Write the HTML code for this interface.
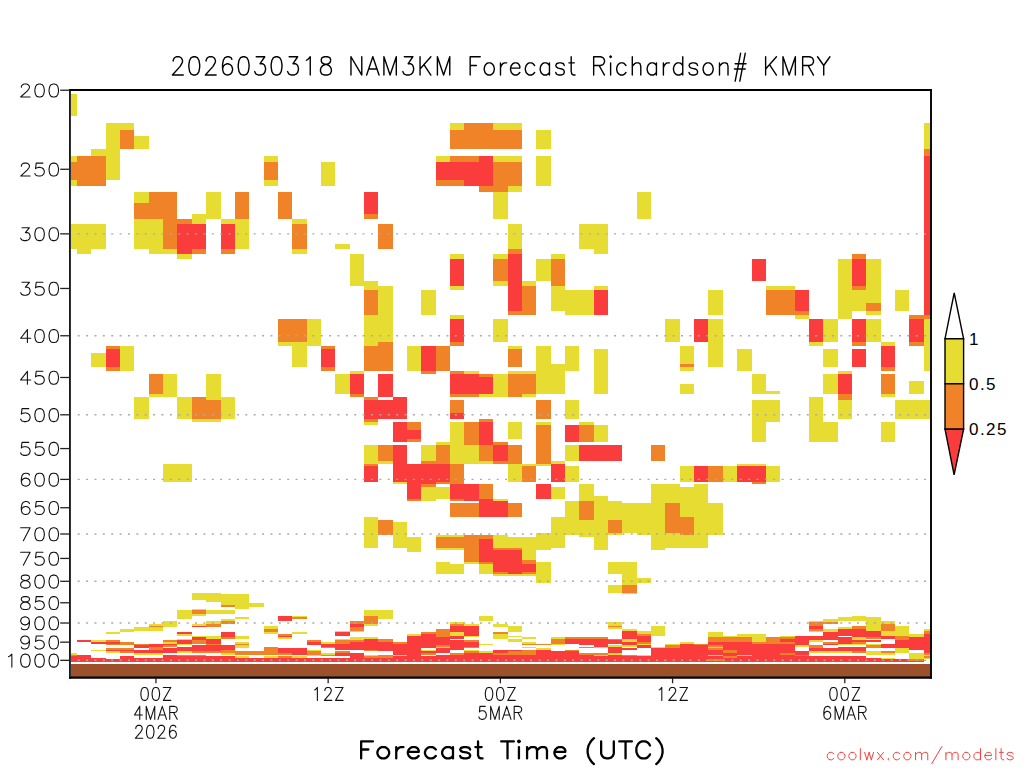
<!DOCTYPE html>
<html><head><meta charset="utf-8"><title>NAM3KM Forecast Richardson# KMRY</title>
<style>html,body{margin:0;padding:0;background:#fff;font-family:"Liberation Sans",sans-serif}svg{display:block}</style></head>
<body>
<svg width="1024" height="768" viewBox="0 0 1024 768">
<rect width="1024" height="768" fill="#fff"/>
<g shape-rendering="crispEdges">
<path fill="#e6dc32" d="M71 94h6v22h-6zM71 156h6v6h-6zM71 180h6v6h-6zM71 224h6v25h-6zM71 653h6v2h-6zM77 224h14v30h-14zM91 149h15v7h-15zM91 224h15v25h-15zM91 353h15v14h-15zM91 640h15v2h-15zM91 650h15v1h-15zM106 123h14v57h-14zM106 632h14v2h-14zM106 651h14v2h-14zM120 123h14v7h-14zM120 346h14v25h-14zM120 629h14v3h-14zM134 136h15v13h-15zM134 192h15v11h-15zM134 219h15v30h-15zM134 397h15v22h-15zM134 627h15v4h-15zM134 653h15v2h-15zM149 219h14v35h-14zM149 394h14v3h-14zM149 624h14v2h-14zM149 627h14v4h-14zM149 653h14v2h-14zM163 249h14v5h-14zM163 374h14v23h-14zM163 464h14v18h-14zM163 621h14v6h-14zM163 642h14v2h-14zM177 254h15v5h-15zM177 397h15v22h-15zM177 464h15v18h-15zM177 610h15v9h-15zM177 634h15v2h-15zM177 639h15v1h-15zM177 644h15v1h-15zM177 651h15v2h-15zM192 214h14v10h-14zM192 419h14v3h-14zM192 593h14v7h-14zM192 609h14v1h-14zM192 614h14v2h-14zM192 624h14v2h-14zM192 636h14v1h-14zM206 192h15v27h-15zM206 374h15v26h-15zM206 419h15v3h-15zM206 593h15v9h-15zM206 610h15v4h-15zM206 621h15v3h-15zM206 636h15v3h-15zM221 219h14v5h-14zM221 397h14v22h-14zM221 594h14v11h-14zM221 610h14v4h-14zM221 619h14v2h-14zM221 653h14v2h-14zM235 219h14v30h-14zM235 594h14v15h-14zM235 617h14v2h-14zM235 636h14v3h-14zM235 642h14v2h-14zM235 645h14v3h-14zM235 656h14v2h-14zM249 603h15v4h-15zM264 156h14v6h-14zM264 180h14v6h-14zM264 626h14v3h-14zM264 632h14v2h-14zM264 656h14v2h-14zM278 342h14v4h-14zM278 637h14v2h-14zM292 219h15v5h-15zM292 249h15v5h-15zM292 342h15v25h-15zM292 616h15v1h-15zM292 632h15v2h-15zM292 656h15v2h-15zM307 319h14v27h-14zM307 650h14v1h-14zM307 655h14v1h-14zM321 162h14v24h-14zM321 642h14v2h-14zM321 653h14v2h-14zM335 244h15v5h-15zM335 374h15v20h-15zM335 631h15v1h-15zM335 639h15v1h-15zM350 254h14v32h-14zM350 371h14v3h-14zM350 631h14v1h-14zM350 637h14v3h-14zM364 281h14v9h-14zM364 315h14v31h-14zM364 422h14v3h-14zM364 445h14v19h-14zM364 517h14v31h-14zM364 610h14v6h-14zM364 624h14v2h-14zM364 637h14v2h-14zM364 655h14v1h-14zM378 286h15v56h-15zM378 461h15v3h-15zM378 610h15v9h-15zM393 482h14v2h-14zM393 522h14v26h-14zM393 655h14v1h-14zM407 346h14v25h-14zM407 537h14v15h-14zM407 634h14v2h-14zM421 290h15v25h-15zM421 445h15v16h-15zM421 487h15v14h-15zM421 650h15v1h-15zM436 156h14v6h-14zM436 442h14v3h-14zM436 487h14v12h-14zM436 535h14v2h-14zM436 548h14v2h-14zM436 562h14v12h-14zM436 647h14v1h-14zM450 123h14v7h-14zM450 254h14v5h-14zM450 286h14v4h-14zM450 315h14v4h-14zM450 422h14v42h-14zM450 535h14v2h-14zM450 548h14v2h-14zM450 564h14v10h-14zM450 622h14v2h-14zM450 632h14v4h-14zM464 371h15v3h-15zM464 445h15v19h-15zM464 562h15v2h-15zM464 624h15v2h-15zM464 636h15v1h-15zM464 650h15v1h-15zM479 394h14v3h-14zM479 461h14v3h-14zM479 564h14v10h-14zM479 616h14v5h-14zM479 644h14v1h-14zM479 651h14v2h-14zM493 123h15v7h-15zM493 156h15v6h-15zM493 192h15v27h-15zM493 254h15v5h-15zM493 281h15v5h-15zM493 319h15v23h-15zM493 374h15v23h-15zM493 499h15v2h-15zM493 535h15v13h-15zM493 574h15v2h-15zM493 624h15v3h-15zM493 634h15v5h-15zM508 123h14v7h-14zM508 156h14v6h-14zM508 186h14v6h-14zM508 224h14v25h-14zM508 346h14v3h-14zM508 371h14v3h-14zM508 422h14v17h-14zM508 464h14v18h-14zM508 537h14v11h-14zM508 574h14v2h-14zM508 626h14v6h-14zM508 636h14v1h-14zM508 639h14v3h-14zM522 281h14v5h-14zM522 371h14v3h-14zM522 394h14v3h-14zM522 464h14v2h-14zM522 537h14v23h-14zM522 574h14v2h-14zM522 637h14v2h-14zM522 642h14v2h-14zM522 647h14v1h-14zM536 130h15v19h-15zM536 156h15v30h-15zM536 259h15v22h-15zM536 346h15v48h-15zM536 422h15v3h-15zM536 464h15v2h-15zM536 533h15v17h-15zM536 562h15v21h-15zM536 648h15v2h-15zM551 254h14v5h-14zM551 286h14v25h-14zM551 364h14v30h-14zM551 461h14v3h-14zM551 487h14v12h-14zM551 517h14v31h-14zM551 637h14v2h-14zM551 644h14v1h-14zM565 290h14v25h-14zM565 346h14v25h-14zM565 400h14v19h-14zM565 445h14v16h-14zM565 466h14v16h-14zM565 501h14v34h-14zM579 224h15v25h-15zM579 290h15v25h-15zM579 422h15v3h-15zM579 484h15v17h-15zM579 520h15v17h-15zM594 224h14v30h-14zM594 286h14v4h-14zM594 349h14v45h-14zM594 425h14v17h-14zM594 496h14v54h-14zM594 647h14v1h-14zM594 655h14v1h-14zM608 501h14v19h-14zM608 533h14v2h-14zM608 562h14v12h-14zM608 585h14v8h-14zM608 622h14v4h-14zM608 627h14v2h-14zM608 645h14v2h-14zM608 653h14v2h-14zM622 503h15v30h-15zM622 562h15v23h-15zM622 593h15v1h-15zM622 629h15v2h-15zM622 639h15v3h-15zM622 645h15v2h-15zM637 192h14v27h-14zM637 503h14v32h-14zM637 578h14v5h-14zM637 631h14v3h-14zM637 644h14v1h-14zM637 655h14v1h-14zM651 484h14v66h-14zM651 626h14v10h-14zM651 647h14v1h-14zM665 319h15v23h-15zM665 484h15v19h-15zM665 533h15v15h-15zM665 644h15v1h-15zM680 346h14v18h-14zM680 367h14v4h-14zM680 384h14v10h-14zM680 466h14v16h-14zM680 487h14v30h-14zM680 535h14v13h-14zM680 642h14v2h-14zM694 484h14v64h-14zM708 290h15v25h-15zM708 319h15v48h-15zM708 503h15v32h-15zM708 632h15v5h-15zM708 647h15v1h-15zM708 655h15v1h-15zM723 466h14v16h-14zM723 636h14v1h-14zM737 349h15v22h-15zM737 464h15v2h-15zM737 634h15v3h-15zM737 655h15v1h-15zM752 374h14v20h-14zM752 400h14v42h-14zM752 464h14v2h-14zM752 634h14v8h-14zM766 286h14v4h-14zM766 391h14v3h-14zM766 400h14v22h-14zM766 466h14v16h-14zM780 286h15v4h-15zM780 636h15v1h-15zM795 315h14v4h-14zM795 645h14v2h-14zM809 342h14v4h-14zM809 397h14v45h-14zM809 621h14v1h-14zM809 631h14v1h-14zM809 640h14v2h-14zM809 645h14v2h-14zM809 651h14v2h-14zM823 319h15v23h-15zM823 349h15v18h-15zM823 374h15v20h-15zM823 422h15v20h-15zM823 619h15v3h-15zM823 629h15v3h-15zM823 651h15v2h-15zM838 259h14v60h-14zM838 371h14v3h-14zM838 400h14v19h-14zM838 617h14v4h-14zM838 627h14v2h-14zM838 644h14v1h-14zM838 651h14v2h-14zM852 290h14v21h-14zM852 616h14v5h-14zM852 637h14v3h-14zM852 644h14v1h-14zM866 259h15v44h-15zM866 311h15v4h-15zM866 319h15v23h-15zM866 617h15v14h-15zM866 644h15v1h-15zM866 651h15v4h-15zM881 342h14v4h-14zM881 394h14v3h-14zM881 422h14v20h-14zM881 621h14v3h-14zM881 631h14v5h-14zM881 653h14v2h-14zM881 658h14v1h-14zM895 290h14v21h-14zM895 400h14v19h-14zM895 626h14v10h-14zM895 648h14v5h-14zM909 381h15v13h-15zM909 400h15v19h-15zM909 634h15v3h-15zM909 653h15v6h-15zM924 123h6v26h-6zM924 319h6v52h-6zM924 400h6v19h-6zM924 629h6v2h-6zM924 655h6v1h-6zM924 658h6v1h-6z"/>
<path fill="#f08228" d="M71 162h6v18h-6zM71 655h6v1h-6zM77 156h14v30h-14zM91 156h15v30h-15zM106 346h14v3h-14zM106 367h14v4h-14zM106 640h14v2h-14zM106 644h14v1h-14zM106 648h14v2h-14zM120 130h14v19h-14zM120 642h14v3h-14zM120 648h14v2h-14zM120 651h14v2h-14zM134 203h15v16h-15zM134 644h15v1h-15zM149 192h14v27h-14zM149 374h14v20h-14zM149 626h14v1h-14zM149 647h14v3h-14zM163 192h14v57h-14zM163 640h14v2h-14zM163 645h14v2h-14zM177 219h15v5h-15zM177 655h15v1h-15zM192 249h14v5h-14zM192 397h14v22h-14zM192 610h14v4h-14zM192 640h14v4h-14zM192 651h14v2h-14zM192 655h14v1h-14zM206 400h15v19h-15zM206 624h15v3h-15zM206 644h15v1h-15zM206 651h15v2h-15zM221 249h14v5h-14zM221 605h14v2h-14zM221 621h14v3h-14zM221 637h14v2h-14zM221 650h14v3h-14zM235 192h14v27h-14zM235 644h14v1h-14zM235 651h14v4h-14zM249 651h15v4h-15zM264 162h14v18h-14zM264 629h14v3h-14zM264 647h14v8h-14zM278 192h14v27h-14zM278 319h14v23h-14zM278 634h14v2h-14zM278 653h14v2h-14zM278 656h14v2h-14zM292 224h15v25h-15zM292 319h15v23h-15zM292 617h15v2h-15zM307 640h14v2h-14zM307 651h14v4h-14zM321 346h14v3h-14zM321 367h14v4h-14zM321 647h14v1h-14zM321 655h14v1h-14zM335 640h15v4h-15zM335 651h15v2h-15zM350 394h14v3h-14zM350 621h14v3h-14zM350 627h14v4h-14zM350 640h14v2h-14zM364 214h14v5h-14zM364 290h14v25h-14zM364 346h14v25h-14zM364 397h14v3h-14zM364 419h14v3h-14zM364 464h14v2h-14zM364 616h14v8h-14zM364 650h14v1h-14zM364 656h14v2h-14zM378 224h15v25h-15zM378 342h15v29h-15zM378 445h15v16h-15zM378 520h15v15h-15zM378 639h15v3h-15zM378 655h15v3h-15zM393 642h14v2h-14zM407 422h14v8h-14zM407 439h14v3h-14zM407 499h14v2h-14zM421 371h15v3h-15zM421 461h15v3h-15zM421 484h15v3h-15zM421 632h15v2h-15zM421 653h15v2h-15zM436 180h14v6h-14zM436 346h14v25h-14zM436 445h14v19h-14zM436 482h14v2h-14zM436 537h14v11h-14zM436 629h14v8h-14zM436 645h14v2h-14zM450 130h14v19h-14zM450 156h14v6h-14zM450 180h14v6h-14zM450 342h14v4h-14zM450 371h14v3h-14zM450 394h14v3h-14zM450 400h14v13h-14zM450 464h14v20h-14zM450 499h14v2h-14zM450 503h14v14h-14zM450 537h14v11h-14zM450 624h14v2h-14zM450 653h14v2h-14zM464 123h15v26h-15zM464 156h15v6h-15zM464 394h15v3h-15zM464 422h15v23h-15zM464 503h15v14h-15zM464 535h15v27h-15zM464 640h15v2h-15zM464 647h15v1h-15zM464 651h15v2h-15zM479 123h14v26h-14zM479 186h14v6h-14zM479 374h14v3h-14zM479 419h14v3h-14zM479 445h14v16h-14zM479 484h14v15h-14zM479 535h14v4h-14zM479 562h14v2h-14zM493 130h15v19h-15zM493 162h15v30h-15zM493 259h15v22h-15zM493 442h15v3h-15zM493 461h15v3h-15zM493 548h15v2h-15zM493 572h15v2h-15zM493 632h15v2h-15zM493 653h15v2h-15zM508 130h14v19h-14zM508 162h14v24h-14zM508 249h14v5h-14zM508 311h14v4h-14zM508 349h14v18h-14zM508 374h14v23h-14zM508 445h14v19h-14zM508 503h14v14h-14zM508 548h14v2h-14zM508 651h14v4h-14zM522 286h14v29h-14zM522 374h14v20h-14zM522 466h14v16h-14zM522 560h14v4h-14zM522 572h14v2h-14zM522 644h14v1h-14zM522 650h14v5h-14zM536 400h15v19h-15zM536 425h15v39h-15zM536 644h15v1h-15zM551 259h14v27h-14zM551 639h14v5h-14zM565 637h14v2h-14zM565 650h14v1h-14zM579 425h15v17h-15zM579 501h15v19h-15zM579 637h15v2h-15zM579 647h15v1h-15zM579 653h15v2h-15zM594 637h14v2h-14zM594 653h14v2h-14zM608 520h14v13h-14zM608 626h14v1h-14zM608 639h14v1h-14zM622 585h15v8h-15zM622 655h15v1h-15zM637 634h14v2h-14zM637 642h14v2h-14zM651 445h14v16h-14zM665 503h15v30h-15zM665 645h15v3h-15zM680 364h14v3h-14zM680 517h14v18h-14zM694 644h14v1h-14zM708 466h15v16h-15zM708 637h15v5h-15zM708 645h15v2h-15zM708 648h15v2h-15zM708 659h15v2h-15zM723 637h14v5h-14zM723 650h14v3h-14zM723 656h14v2h-14zM737 637h15v5h-15zM752 482h14v2h-14zM752 642h14v2h-14zM766 290h14v25h-14zM766 637h14v7h-14zM780 290h15v25h-15zM780 637h15v2h-15zM780 642h15v2h-15zM780 653h15v2h-15zM795 311h14v4h-14zM795 655h14v1h-14zM809 622h14v4h-14zM809 629h14v2h-14zM809 645h14v3h-14zM823 622h15v2h-15zM823 642h15v2h-15zM838 394h14v6h-14zM852 254h14v5h-14zM852 286h14v4h-14zM852 342h14v4h-14zM852 626h14v3h-14zM852 642h14v2h-14zM852 651h14v2h-14zM866 303h15v8h-15zM866 637h15v2h-15zM866 645h15v3h-15zM881 367h14v4h-14zM881 374h14v20h-14zM881 624h14v7h-14zM881 651h14v2h-14zM895 636h14v4h-14zM909 315h15v4h-15zM909 342h15v4h-15zM909 659h15v2h-15zM924 149h6v7h-6zM924 315h6v4h-6zM924 631h6v3h-6zM924 653h6v2h-6zM924 656h6v2h-6z"/>
<path fill="#fa3c3c" d="M71 656h6v6h-6zM77 640h14v2h-14zM77 655h14v7h-14zM91 642h15v2h-15zM91 658h15v4h-15zM106 349h14v18h-14zM106 642h14v2h-14zM106 650h14v1h-14zM106 659h14v3h-14zM120 650h14v1h-14zM120 656h14v6h-14zM134 645h15v3h-15zM134 650h15v3h-15zM134 658h15v4h-15zM149 644h14v3h-14zM149 650h14v3h-14zM149 658h14v4h-14zM163 644h14v1h-14zM163 648h14v5h-14zM163 655h14v7h-14zM177 224h15v30h-15zM177 632h15v2h-15zM177 640h15v4h-15zM177 647h15v4h-15zM177 656h15v6h-15zM192 224h14v25h-14zM192 626h14v1h-14zM192 637h14v3h-14zM192 645h14v6h-14zM192 656h14v6h-14zM206 639h15v5h-15zM206 645h15v6h-15zM206 656h15v6h-15zM221 224h14v25h-14zM221 632h14v5h-14zM221 645h14v5h-14zM221 656h14v6h-14zM235 658h14v4h-14zM249 658h15v4h-15zM264 658h14v4h-14zM278 616h14v5h-14zM278 636h14v1h-14zM278 648h14v5h-14zM278 658h14v4h-14zM292 648h15v7h-15zM292 658h15v4h-15zM307 642h14v3h-14zM307 658h14v4h-14zM321 349h14v18h-14zM321 644h14v3h-14zM321 658h14v4h-14zM335 632h15v4h-15zM335 644h15v6h-15zM335 653h15v3h-15zM335 658h15v4h-15zM350 374h14v20h-14zM350 624h14v3h-14zM350 642h14v8h-14zM350 653h14v9h-14zM364 192h14v22h-14zM364 400h14v19h-14zM364 466h14v16h-14zM364 639h14v11h-14zM364 658h14v4h-14zM378 374h15v23h-15zM378 400h15v19h-15zM378 642h15v9h-15zM378 658h15v4h-15zM393 397h14v22h-14zM393 422h14v20h-14zM393 445h14v37h-14zM393 644h14v11h-14zM393 656h14v6h-14zM407 430h14v9h-14zM407 464h14v35h-14zM407 636h14v26h-14zM421 346h15v25h-15zM421 464h15v20h-15zM421 634h15v14h-15zM421 651h15v2h-15zM421 656h15v6h-15zM436 162h14v18h-14zM436 464h14v18h-14zM436 637h14v8h-14zM436 648h14v5h-14zM436 655h14v7h-14zM450 162h14v18h-14zM450 259h14v27h-14zM450 319h14v23h-14zM450 374h14v20h-14zM450 413h14v6h-14zM450 484h14v15h-14zM450 626h14v6h-14zM450 636h14v3h-14zM450 640h14v10h-14zM450 655h14v7h-14zM464 162h15v24h-15zM464 374h15v20h-15zM464 484h15v17h-15zM464 626h15v10h-15zM464 642h15v5h-15zM464 653h15v9h-15zM479 156h14v30h-14zM479 377h14v17h-14zM479 422h14v23h-14zM479 499h14v18h-14zM479 539h14v23h-14zM479 653h14v9h-14zM493 445h15v16h-15zM493 501h15v16h-15zM493 550h15v22h-15zM493 650h15v3h-15zM493 655h15v7h-15zM508 254h14v57h-14zM508 550h14v24h-14zM508 650h14v1h-14zM508 655h14v7h-14zM522 564h14v8h-14zM522 655h14v7h-14zM536 484h15v15h-15zM536 650h15v12h-15zM551 464h14v18h-14zM551 651h14v11h-14zM565 425h14v17h-14zM565 639h14v5h-14zM565 651h14v11h-14zM579 445h15v16h-15zM579 639h15v6h-15zM579 655h15v7h-15zM594 290h14v25h-14zM594 445h14v16h-14zM594 639h14v8h-14zM594 656h14v6h-14zM608 445h14v16h-14zM608 640h14v4h-14zM608 647h14v6h-14zM608 655h14v7h-14zM622 631h15v8h-15zM622 642h15v3h-15zM622 648h15v2h-15zM622 656h15v6h-15zM637 636h14v6h-14zM637 645h14v3h-14zM637 656h14v6h-14zM651 648h14v14h-14zM665 648h15v14h-15zM680 644h14v18h-14zM694 319h14v23h-14zM694 466h14v16h-14zM694 645h14v17h-14zM708 642h15v3h-15zM708 650h15v5h-15zM708 656h15v3h-15zM708 661h15v1h-15zM723 642h14v8h-14zM723 653h14v3h-14zM723 658h14v4h-14zM737 466h15v16h-15zM737 642h15v13h-15zM737 656h15v6h-15zM752 259h14v22h-14zM752 466h14v16h-14zM752 644h14v18h-14zM766 644h14v18h-14zM780 639h15v3h-15zM780 644h15v9h-15zM780 655h15v7h-15zM795 290h14v21h-14zM795 636h14v9h-14zM795 651h14v4h-14zM795 656h14v6h-14zM809 319h14v23h-14zM809 626h14v3h-14zM809 636h14v4h-14zM809 648h14v3h-14zM809 656h14v6h-14zM823 632h15v8h-15zM823 644h15v1h-15zM823 648h15v3h-15zM823 656h15v6h-15zM838 374h14v20h-14zM838 629h14v7h-14zM838 637h14v7h-14zM838 647h14v4h-14zM838 656h14v6h-14zM852 259h14v27h-14zM852 319h14v23h-14zM852 349h14v18h-14zM852 629h14v8h-14zM852 640h14v2h-14zM852 647h14v4h-14zM852 656h14v6h-14zM866 631h15v6h-15zM866 640h15v2h-15zM866 658h15v4h-15zM881 346h14v21h-14zM881 636h14v3h-14zM881 644h14v4h-14zM881 659h14v3h-14zM895 640h14v8h-14zM895 659h14v3h-14zM909 319h15v23h-15zM909 637h15v13h-15zM909 661h15v1h-15zM924 156h6v159h-6zM924 634h6v19h-6z"/>
<rect x="71" y="664" width="859" height="13" fill="#9c502c"/>
</g>
<line x1="77.7" x2="930" y1="233.86" y2="233.86" stroke="#aaaaaa" stroke-width="1.45" stroke-dasharray="2 6.38"/>
<line x1="77.7" x2="930" y1="335.76" y2="335.76" stroke="#aaaaaa" stroke-width="1.45" stroke-dasharray="2 6.38"/>
<line x1="77.7" x2="930" y1="414.81" y2="414.81" stroke="#aaaaaa" stroke-width="1.45" stroke-dasharray="2 6.38"/>
<line x1="77.7" x2="930" y1="479.39" y2="479.39" stroke="#aaaaaa" stroke-width="1.45" stroke-dasharray="2 6.38"/>
<line x1="77.7" x2="930" y1="534" y2="534" stroke="#aaaaaa" stroke-width="1.45" stroke-dasharray="2 6.38"/>
<line x1="77.7" x2="930" y1="581.3" y2="581.3" stroke="#aaaaaa" stroke-width="1.45" stroke-dasharray="2 6.38"/>
<line x1="77.7" x2="930" y1="623.02" y2="623.02" stroke="#aaaaaa" stroke-width="1.45" stroke-dasharray="2 6.38"/>
<line x1="77.7" x2="930" y1="660.34" y2="660.34" stroke="#aaaaaa" stroke-width="1.45" stroke-dasharray="2 6.38"/>
<path d="M69.95 89 V678.7" fill="none" stroke="#000" stroke-width="1.7"/><path d="M931 89 V678.7" fill="none" stroke="#000" stroke-width="1.9"/>
<path d="M69.05 89.95 H931.9" fill="none" stroke="#000" stroke-width="1.9"/>
<path d="M69.05 677.65 H931.9" fill="none" stroke="#000" stroke-width="2.1"/>
<line x1="60.2" x2="70" y1="90.23" y2="90.23" stroke="#222" stroke-width="1.3"/>
<path d="M21.33 87.14 L21.33 86.52 L22.01 85.29 L22.68 84.67 L24.03 84.05 L26.73 84.05 L28.08 84.67 L28.75 85.29 L29.43 86.52 L29.43 87.76 L28.75 88.99 L27.4 90.84 L20.66 97.01 L30.1 97.01 M38.91 84.05 L36.88 84.67 L35.53 86.52 L34.86 89.61 L34.86 91.46 L35.53 94.54 L36.88 96.39 L38.91 97.01 L40.25 97.01 L42.28 96.39 L43.63 94.54 L44.3 91.46 L44.3 89.61 L43.63 86.52 L42.28 84.67 L40.25 84.05 L38.91 84.05 M53.11 84.05 L51.08 84.67 L49.73 86.52 L49.06 89.61 L49.06 91.46 L49.73 94.54 L51.08 96.39 L53.11 97.01 L54.45 97.01 L56.48 96.39 L57.83 94.54 L58.5 91.46 L58.5 89.61 L57.83 86.52 L56.48 84.67 L54.45 84.05 L53.11 84.05" fill="none" stroke="#111" stroke-width="1.1" stroke-linecap="round" stroke-linejoin="round"/>
<line x1="60.2" x2="70" y1="169.27" y2="169.27" stroke="#222" stroke-width="1.3"/>
<path d="M21.33 166.18 L21.33 165.57 L22.01 164.33 L22.68 163.71 L24.03 163.1 L26.73 163.1 L28.08 163.71 L28.75 164.33 L29.43 165.57 L29.43 166.8 L28.75 168.03 L27.4 169.88 L20.66 176.05 L30.1 176.05 M42.95 163.1 L36.21 163.1 L35.53 168.65 L36.21 168.03 L38.23 167.42 L40.25 167.42 L42.28 168.03 L43.63 169.27 L44.3 171.12 L44.3 172.35 L43.63 174.2 L42.28 175.44 L40.25 176.05 L38.23 176.05 L36.21 175.44 L35.53 174.82 L34.86 173.59 M53.11 163.1 L51.08 163.71 L49.73 165.57 L49.06 168.65 L49.06 170.5 L49.73 173.59 L51.08 175.44 L53.11 176.05 L54.45 176.05 L56.48 175.44 L57.83 173.59 L58.5 170.5 L58.5 168.65 L57.83 165.57 L56.48 163.71 L54.45 163.1 L53.11 163.1" fill="none" stroke="#111" stroke-width="1.1" stroke-linecap="round" stroke-linejoin="round"/>
<line x1="60.2" x2="70" y1="233.86" y2="233.86" stroke="#222" stroke-width="1.3"/>
<path d="M22.01 227.68 L29.43 227.68 L25.38 232.62 L27.4 232.62 L28.75 233.23 L29.43 233.85 L30.1 235.7 L30.1 236.94 L29.43 238.79 L28.08 240.02 L26.05 240.64 L24.03 240.64 L22.01 240.02 L21.33 239.4 L20.66 238.17 M38.91 227.68 L36.88 228.3 L35.53 230.15 L34.86 233.23 L34.86 235.08 L35.53 238.17 L36.88 240.02 L38.91 240.64 L40.25 240.64 L42.28 240.02 L43.63 238.17 L44.3 235.08 L44.3 233.23 L43.63 230.15 L42.28 228.3 L40.25 227.68 L38.91 227.68 M53.11 227.68 L51.08 228.3 L49.73 230.15 L49.06 233.23 L49.06 235.08 L49.73 238.17 L51.08 240.02 L53.11 240.64 L54.45 240.64 L56.48 240.02 L57.83 238.17 L58.5 235.08 L58.5 233.23 L57.83 230.15 L56.48 228.3 L54.45 227.68 L53.11 227.68" fill="none" stroke="#111" stroke-width="1.1" stroke-linecap="round" stroke-linejoin="round"/>
<line x1="60.2" x2="70" y1="288.46" y2="288.46" stroke="#222" stroke-width="1.3"/>
<path d="M22.01 282.29 L29.43 282.29 L25.38 287.22 L27.4 287.22 L28.75 287.84 L29.43 288.46 L30.1 290.31 L30.1 291.54 L29.43 293.39 L28.08 294.63 L26.05 295.24 L24.03 295.24 L22.01 294.63 L21.33 294.01 L20.66 292.77 M42.95 282.29 L36.21 282.29 L35.53 287.84 L36.21 287.22 L38.23 286.6 L40.25 286.6 L42.28 287.22 L43.63 288.46 L44.3 290.31 L44.3 291.54 L43.63 293.39 L42.28 294.63 L40.25 295.24 L38.23 295.24 L36.21 294.63 L35.53 294.01 L34.86 292.77 M53.11 282.29 L51.08 282.9 L49.73 284.75 L49.06 287.84 L49.06 289.69 L49.73 292.77 L51.08 294.63 L53.11 295.24 L54.45 295.24 L56.48 294.63 L57.83 292.77 L58.5 289.69 L58.5 287.84 L57.83 284.75 L56.48 282.9 L54.45 282.29 L53.11 282.29" fill="none" stroke="#111" stroke-width="1.1" stroke-linecap="round" stroke-linejoin="round"/>
<line x1="60.2" x2="70" y1="335.76" y2="335.76" stroke="#222" stroke-width="1.3"/>
<path d="M27.4 329.59 L20.66 338.22 L30.78 338.22 M27.4 329.59 L27.4 342.54 M38.91 329.59 L36.88 330.2 L35.53 332.05 L34.86 335.14 L34.86 336.99 L35.53 340.08 L36.88 341.93 L38.91 342.54 L40.25 342.54 L42.28 341.93 L43.63 340.08 L44.3 336.99 L44.3 335.14 L43.63 332.05 L42.28 330.2 L40.25 329.59 L38.91 329.59 M53.11 329.59 L51.08 330.2 L49.73 332.05 L49.06 335.14 L49.06 336.99 L49.73 340.08 L51.08 341.93 L53.11 342.54 L54.45 342.54 L56.48 341.93 L57.83 340.08 L58.5 336.99 L58.5 335.14 L57.83 332.05 L56.48 330.2 L54.45 329.59 L53.11 329.59" fill="none" stroke="#111" stroke-width="1.1" stroke-linecap="round" stroke-linejoin="round"/>
<line x1="60.2" x2="70" y1="377.49" y2="377.49" stroke="#222" stroke-width="1.3"/>
<path d="M27.4 371.31 L20.66 379.95 L30.78 379.95 M27.4 371.31 L27.4 384.27 M42.95 371.31 L36.21 371.31 L35.53 376.86 L36.21 376.24 L38.23 375.63 L40.25 375.63 L42.28 376.24 L43.63 377.48 L44.3 379.33 L44.3 380.56 L43.63 382.41 L42.28 383.65 L40.25 384.27 L38.23 384.27 L36.21 383.65 L35.53 383.03 L34.86 381.8 M53.11 371.31 L51.08 371.93 L49.73 373.78 L49.06 376.86 L49.06 378.71 L49.73 381.8 L51.08 383.65 L53.11 384.27 L54.45 384.27 L56.48 383.65 L57.83 381.8 L58.5 378.71 L58.5 376.86 L57.83 373.78 L56.48 371.93 L54.45 371.31 L53.11 371.31" fill="none" stroke="#111" stroke-width="1.1" stroke-linecap="round" stroke-linejoin="round"/>
<line x1="60.2" x2="70" y1="414.81" y2="414.81" stroke="#222" stroke-width="1.3"/>
<path d="M28.75 408.63 L22.01 408.63 L21.33 414.18 L22.01 413.57 L24.03 412.95 L26.05 412.95 L28.08 413.57 L29.43 414.8 L30.1 416.65 L30.1 417.89 L29.43 419.74 L28.08 420.97 L26.05 421.59 L24.03 421.59 L22.01 420.97 L21.33 420.35 L20.66 419.12 M38.91 408.63 L36.88 409.25 L35.53 411.1 L34.86 414.18 L34.86 416.03 L35.53 419.12 L36.88 420.97 L38.91 421.59 L40.25 421.59 L42.28 420.97 L43.63 419.12 L44.3 416.03 L44.3 414.18 L43.63 411.1 L42.28 409.25 L40.25 408.63 L38.91 408.63 M53.11 408.63 L51.08 409.25 L49.73 411.1 L49.06 414.18 L49.06 416.03 L49.73 419.12 L51.08 420.97 L53.11 421.59 L54.45 421.59 L56.48 420.97 L57.83 419.12 L58.5 416.03 L58.5 414.18 L57.83 411.1 L56.48 409.25 L54.45 408.63 L53.11 408.63" fill="none" stroke="#111" stroke-width="1.1" stroke-linecap="round" stroke-linejoin="round"/>
<line x1="60.2" x2="70" y1="448.57" y2="448.57" stroke="#222" stroke-width="1.3"/>
<path d="M28.75 442.39 L22.01 442.39 L21.33 447.95 L22.01 447.33 L24.03 446.71 L26.05 446.71 L28.08 447.33 L29.43 448.56 L30.1 450.41 L30.1 451.65 L29.43 453.5 L28.08 454.73 L26.05 455.35 L24.03 455.35 L22.01 454.73 L21.33 454.12 L20.66 452.88 M42.95 442.39 L36.21 442.39 L35.53 447.95 L36.21 447.33 L38.23 446.71 L40.25 446.71 L42.28 447.33 L43.63 448.56 L44.3 450.41 L44.3 451.65 L43.63 453.5 L42.28 454.73 L40.25 455.35 L38.23 455.35 L36.21 454.73 L35.53 454.12 L34.86 452.88 M53.11 442.39 L51.08 443.01 L49.73 444.86 L49.06 447.95 L49.06 449.8 L49.73 452.88 L51.08 454.73 L53.11 455.35 L54.45 455.35 L56.48 454.73 L57.83 452.88 L58.5 449.8 L58.5 447.95 L57.83 444.86 L56.48 443.01 L54.45 442.39 L53.11 442.39" fill="none" stroke="#111" stroke-width="1.1" stroke-linecap="round" stroke-linejoin="round"/>
<line x1="60.2" x2="70" y1="479.39" y2="479.39" stroke="#222" stroke-width="1.3"/>
<path d="M29.43 475.07 L28.75 473.83 L26.73 473.21 L25.38 473.21 L23.36 473.83 L22.01 475.68 L21.33 478.77 L21.33 481.85 L22.01 484.32 L23.36 485.55 L25.38 486.17 L26.05 486.17 L28.08 485.55 L29.43 484.32 L30.1 482.47 L30.1 481.85 L29.43 480 L28.08 478.77 L26.05 478.15 L25.38 478.15 L23.36 478.77 L22.01 480 L21.33 481.85 M38.91 473.21 L36.88 473.83 L35.53 475.68 L34.86 478.77 L34.86 480.62 L35.53 483.7 L36.88 485.55 L38.91 486.17 L40.25 486.17 L42.28 485.55 L43.63 483.7 L44.3 480.62 L44.3 478.77 L43.63 475.68 L42.28 473.83 L40.25 473.21 L38.91 473.21 M53.11 473.21 L51.08 473.83 L49.73 475.68 L49.06 478.77 L49.06 480.62 L49.73 483.7 L51.08 485.55 L53.11 486.17 L54.45 486.17 L56.48 485.55 L57.83 483.7 L58.5 480.62 L58.5 478.77 L57.83 475.68 L56.48 473.83 L54.45 473.21 L53.11 473.21" fill="none" stroke="#111" stroke-width="1.1" stroke-linecap="round" stroke-linejoin="round"/>
<line x1="60.2" x2="70" y1="507.74" y2="507.74" stroke="#222" stroke-width="1.3"/>
<path d="M29.43 503.42 L28.75 502.18 L26.73 501.57 L25.38 501.57 L23.36 502.18 L22.01 504.04 L21.33 507.12 L21.33 510.21 L22.01 512.67 L23.36 513.91 L25.38 514.52 L26.05 514.52 L28.08 513.91 L29.43 512.67 L30.1 510.82 L30.1 510.21 L29.43 508.35 L28.08 507.12 L26.05 506.5 L25.38 506.5 L23.36 507.12 L22.01 508.35 L21.33 510.21 M42.95 501.57 L36.21 501.57 L35.53 507.12 L36.21 506.5 L38.23 505.89 L40.25 505.89 L42.28 506.5 L43.63 507.74 L44.3 509.59 L44.3 510.82 L43.63 512.67 L42.28 513.91 L40.25 514.52 L38.23 514.52 L36.21 513.91 L35.53 513.29 L34.86 512.06 M53.11 501.57 L51.08 502.18 L49.73 504.04 L49.06 507.12 L49.06 508.97 L49.73 512.06 L51.08 513.91 L53.11 514.52 L54.45 514.52 L56.48 513.91 L57.83 512.06 L58.5 508.97 L58.5 507.12 L57.83 504.04 L56.48 502.18 L54.45 501.57 L53.11 501.57" fill="none" stroke="#111" stroke-width="1.1" stroke-linecap="round" stroke-linejoin="round"/>
<line x1="60.2" x2="70" y1="534" y2="534" stroke="#222" stroke-width="1.3"/>
<path d="M30.1 527.82 L23.36 540.78 M20.66 527.82 L30.1 527.82 M38.91 527.82 L36.88 528.44 L35.53 530.29 L34.86 533.37 L34.86 535.22 L35.53 538.31 L36.88 540.16 L38.91 540.78 L40.25 540.78 L42.28 540.16 L43.63 538.31 L44.3 535.22 L44.3 533.37 L43.63 530.29 L42.28 528.44 L40.25 527.82 L38.91 527.82 M53.11 527.82 L51.08 528.44 L49.73 530.29 L49.06 533.37 L49.06 535.22 L49.73 538.31 L51.08 540.16 L53.11 540.78 L54.45 540.78 L56.48 540.16 L57.83 538.31 L58.5 535.22 L58.5 533.37 L57.83 530.29 L56.48 528.44 L54.45 527.82 L53.11 527.82" fill="none" stroke="#111" stroke-width="1.1" stroke-linecap="round" stroke-linejoin="round"/>
<line x1="60.2" x2="70" y1="558.44" y2="558.44" stroke="#222" stroke-width="1.3"/>
<path d="M30.1 552.26 L23.36 565.22 M20.66 552.26 L30.1 552.26 M42.95 552.26 L36.21 552.26 L35.53 557.81 L36.21 557.19 L38.23 556.58 L40.25 556.58 L42.28 557.19 L43.63 558.43 L44.3 560.28 L44.3 561.51 L43.63 563.36 L42.28 564.6 L40.25 565.22 L38.23 565.22 L36.21 564.6 L35.53 563.98 L34.86 562.75 M53.11 552.26 L51.08 552.88 L49.73 554.73 L49.06 557.81 L49.06 559.66 L49.73 562.75 L51.08 564.6 L53.11 565.22 L54.45 565.22 L56.48 564.6 L57.83 562.75 L58.5 559.66 L58.5 557.81 L57.83 554.73 L56.48 552.88 L54.45 552.26 L53.11 552.26" fill="none" stroke="#111" stroke-width="1.1" stroke-linecap="round" stroke-linejoin="round"/>
<line x1="60.2" x2="70" y1="581.3" y2="581.3" stroke="#222" stroke-width="1.3"/>
<path d="M24.03 575.12 L22.01 575.74 L21.33 576.97 L21.33 578.21 L22.01 579.44 L23.36 580.06 L26.05 580.67 L28.08 581.29 L29.43 582.52 L30.1 583.76 L30.1 585.61 L29.43 586.84 L28.75 587.46 L26.73 588.08 L24.03 588.08 L22.01 587.46 L21.33 586.84 L20.66 585.61 L20.66 583.76 L21.33 582.52 L22.68 581.29 L24.71 580.67 L27.4 580.06 L28.75 579.44 L29.43 578.21 L29.43 576.97 L28.75 575.74 L26.73 575.12 L24.03 575.12 M38.91 575.12 L36.88 575.74 L35.53 577.59 L34.86 580.67 L34.86 582.52 L35.53 585.61 L36.88 587.46 L38.91 588.08 L40.25 588.08 L42.28 587.46 L43.63 585.61 L44.3 582.52 L44.3 580.67 L43.63 577.59 L42.28 575.74 L40.25 575.12 L38.91 575.12 M53.11 575.12 L51.08 575.74 L49.73 577.59 L49.06 580.67 L49.06 582.52 L49.73 585.61 L51.08 587.46 L53.11 588.08 L54.45 588.08 L56.48 587.46 L57.83 585.61 L58.5 582.52 L58.5 580.67 L57.83 577.59 L56.48 575.74 L54.45 575.12 L53.11 575.12" fill="none" stroke="#111" stroke-width="1.1" stroke-linecap="round" stroke-linejoin="round"/>
<line x1="60.2" x2="70" y1="602.77" y2="602.77" stroke="#222" stroke-width="1.3"/>
<path d="M24.03 596.6 L22.01 597.21 L21.33 598.45 L21.33 599.68 L22.01 600.91 L23.36 601.53 L26.05 602.15 L28.08 602.77 L29.43 604 L30.1 605.23 L30.1 607.08 L29.43 608.32 L28.75 608.94 L26.73 609.55 L24.03 609.55 L22.01 608.94 L21.33 608.32 L20.66 607.08 L20.66 605.23 L21.33 604 L22.68 602.77 L24.71 602.15 L27.4 601.53 L28.75 600.91 L29.43 599.68 L29.43 598.45 L28.75 597.21 L26.73 596.6 L24.03 596.6 M42.95 596.6 L36.21 596.6 L35.53 602.15 L36.21 601.53 L38.23 600.91 L40.25 600.91 L42.28 601.53 L43.63 602.77 L44.3 604.62 L44.3 605.85 L43.63 607.7 L42.28 608.94 L40.25 609.55 L38.23 609.55 L36.21 608.94 L35.53 608.32 L34.86 607.08 M53.11 596.6 L51.08 597.21 L49.73 599.06 L49.06 602.15 L49.06 604 L49.73 607.08 L51.08 608.94 L53.11 609.55 L54.45 609.55 L56.48 608.94 L57.83 607.08 L58.5 604 L58.5 602.15 L57.83 599.06 L56.48 597.21 L54.45 596.6 L53.11 596.6" fill="none" stroke="#111" stroke-width="1.1" stroke-linecap="round" stroke-linejoin="round"/>
<line x1="60.2" x2="70" y1="623.02" y2="623.02" stroke="#222" stroke-width="1.3"/>
<path d="M29.43 621.16 L28.75 623.01 L27.4 624.25 L25.38 624.86 L24.71 624.86 L22.68 624.25 L21.33 623.01 L20.66 621.16 L20.66 620.54 L21.33 618.69 L22.68 617.46 L24.71 616.84 L25.38 616.84 L27.4 617.46 L28.75 618.69 L29.43 621.16 L29.43 624.25 L28.75 627.33 L27.4 629.18 L25.38 629.8 L24.03 629.8 L22.01 629.18 L21.33 627.95 M38.91 616.84 L36.88 617.46 L35.53 619.31 L34.86 622.4 L34.86 624.25 L35.53 627.33 L36.88 629.18 L38.91 629.8 L40.25 629.8 L42.28 629.18 L43.63 627.33 L44.3 624.25 L44.3 622.4 L43.63 619.31 L42.28 617.46 L40.25 616.84 L38.91 616.84 M53.11 616.84 L51.08 617.46 L49.73 619.31 L49.06 622.4 L49.06 624.25 L49.73 627.33 L51.08 629.18 L53.11 629.8 L54.45 629.8 L56.48 629.18 L57.83 627.33 L58.5 624.25 L58.5 622.4 L57.83 619.31 L56.48 617.46 L54.45 616.84 L53.11 616.84" fill="none" stroke="#111" stroke-width="1.1" stroke-linecap="round" stroke-linejoin="round"/>
<line x1="60.2" x2="70" y1="642.17" y2="642.17" stroke="#222" stroke-width="1.3"/>
<path d="M29.43 640.31 L28.75 642.16 L27.4 643.4 L25.38 644.02 L24.71 644.02 L22.68 643.4 L21.33 642.16 L20.66 640.31 L20.66 639.7 L21.33 637.85 L22.68 636.61 L24.71 635.99 L25.38 635.99 L27.4 636.61 L28.75 637.85 L29.43 640.31 L29.43 643.4 L28.75 646.48 L27.4 648.33 L25.38 648.95 L24.03 648.95 L22.01 648.33 L21.33 647.1 M42.95 635.99 L36.21 635.99 L35.53 641.55 L36.21 640.93 L38.23 640.31 L40.25 640.31 L42.28 640.93 L43.63 642.16 L44.3 644.02 L44.3 645.25 L43.63 647.1 L42.28 648.33 L40.25 648.95 L38.23 648.95 L36.21 648.33 L35.53 647.72 L34.86 646.48 M53.11 635.99 L51.08 636.61 L49.73 638.46 L49.06 641.55 L49.06 643.4 L49.73 646.48 L51.08 648.33 L53.11 648.95 L54.45 648.95 L56.48 648.33 L57.83 646.48 L58.5 643.4 L58.5 641.55 L57.83 638.46 L56.48 636.61 L54.45 635.99 L53.11 635.99" fill="none" stroke="#111" stroke-width="1.1" stroke-linecap="round" stroke-linejoin="round"/>
<line x1="60.2" x2="70" y1="660.34" y2="660.34" stroke="#222" stroke-width="1.3"/>
<path d="M8.48 656.63 L9.83 656.02 L11.85 654.16 L11.85 667.12 M24.71 654.16 L22.68 654.78 L21.33 656.63 L20.66 659.72 L20.66 661.57 L21.33 664.65 L22.68 666.5 L24.71 667.12 L26.05 667.12 L28.08 666.5 L29.43 664.65 L30.1 661.57 L30.1 659.72 L29.43 656.63 L28.08 654.78 L26.05 654.16 L24.71 654.16 M38.91 654.16 L36.88 654.78 L35.53 656.63 L34.86 659.72 L34.86 661.57 L35.53 664.65 L36.88 666.5 L38.91 667.12 L40.25 667.12 L42.28 666.5 L43.63 664.65 L44.3 661.57 L44.3 659.72 L43.63 656.63 L42.28 654.78 L40.25 654.16 L38.91 654.16 M53.11 654.16 L51.08 654.78 L49.73 656.63 L49.06 659.72 L49.06 661.57 L49.73 664.65 L51.08 666.5 L53.11 667.12 L54.45 667.12 L56.48 666.5 L57.83 664.65 L58.5 661.57 L58.5 659.72 L57.83 656.63 L56.48 654.78 L54.45 654.16 L53.11 654.16" fill="none" stroke="#111" stroke-width="1.1" stroke-linecap="round" stroke-linejoin="round"/>
<line x1="155.93" x2="155.93" y1="678" y2="683.3" stroke="#222" stroke-width="1.3"/>
<path d="M144.08 687.44 L142.48 688.06 L141.41 689.91 L140.88 693 L140.88 694.85 L141.41 697.93 L142.48 699.78 L144.08 700.4 L145.14 700.4 L146.74 699.78 L147.81 697.93 L148.34 694.85 L148.34 693 L147.81 689.91 L146.74 688.06 L145.14 687.44 L144.08 687.44 M155.3 687.44 L153.7 688.06 L152.63 689.91 L152.1 693 L152.1 694.85 L152.63 697.93 L153.7 699.78 L155.3 700.4 L156.36 700.4 L157.96 699.78 L159.03 697.93 L159.56 694.85 L159.56 693 L159.03 689.91 L157.96 688.06 L156.36 687.44 L155.3 687.44 M170.78 687.44 L163.32 700.4 M163.32 687.44 L170.78 687.44 M163.32 700.4 L170.78 700.4" fill="none" stroke="#111" stroke-width="1.1" stroke-linecap="round" stroke-linejoin="round"/>
<path d="M139.76 706.39 L134.43 715.03 L142.42 715.03 M139.76 706.39 L139.76 719.35 M146.24 706.39 L146.24 719.35 M146.24 706.39 L150.5 719.35 M154.76 706.39 L150.5 719.35 M154.76 706.39 L154.76 719.35 M162.28 706.39 L158.02 719.35 M162.28 706.39 L166.54 719.35 M159.62 715.03 L164.95 715.03 M169.76 706.39 L169.76 719.35 M169.76 706.39 L174.55 706.39 L176.15 707.01 L176.68 707.63 L177.22 708.86 L177.22 710.1 L176.68 711.33 L176.15 711.95 L174.55 712.56 L169.76 712.56 M173.49 712.56 L177.22 719.35" fill="none" stroke="#111" stroke-width="1.1" stroke-linecap="round" stroke-linejoin="round"/>
<path d="M135.8 728.43 L135.8 727.81 L136.33 726.58 L136.87 725.96 L137.93 725.34 L140.07 725.34 L141.13 725.96 L141.66 726.58 L142.2 727.81 L142.2 729.04 L141.66 730.28 L140.6 732.13 L135.27 738.3 L142.73 738.3 M149.69 725.34 L148.09 725.96 L147.02 727.81 L146.49 730.9 L146.49 732.75 L147.02 735.83 L148.09 737.68 L149.69 738.3 L150.75 738.3 L152.35 737.68 L153.42 735.83 L153.95 732.75 L153.95 730.9 L153.42 727.81 L152.35 725.96 L150.75 725.34 L149.69 725.34 M158.24 728.43 L158.24 727.81 L158.77 726.58 L159.31 725.96 L160.37 725.34 L162.51 725.34 L163.57 725.96 L164.1 726.58 L164.64 727.81 L164.64 729.04 L164.1 730.28 L163.04 732.13 L157.71 738.3 L165.17 738.3 M175.86 727.19 L175.32 725.96 L173.73 725.34 L172.66 725.34 L171.06 725.96 L169.99 727.81 L169.46 730.9 L169.46 733.98 L169.99 736.45 L171.06 737.68 L172.66 738.3 L173.19 738.3 L174.79 737.68 L175.86 736.45 L176.39 734.6 L176.39 733.98 L175.86 732.13 L174.79 730.9 L173.19 730.28 L172.66 730.28 L171.06 730.9 L169.99 732.13 L169.46 733.98" fill="none" stroke="#111" stroke-width="1.1" stroke-linecap="round" stroke-linejoin="round"/>
<line x1="328.15" x2="328.15" y1="678" y2="683.3" stroke="#222" stroke-width="1.3"/>
<path d="M314.7 689.91 L315.76 689.29 L317.36 687.44 L317.36 700.4 M324.85 690.53 L324.85 689.91 L325.38 688.68 L325.92 688.06 L326.98 687.44 L329.11 687.44 L330.18 688.06 L330.71 688.68 L331.25 689.91 L331.25 691.14 L330.71 692.38 L329.65 694.23 L324.32 700.4 L331.78 700.4 M343 687.44 L335.54 700.4 M335.54 687.44 L343 687.44 M335.54 700.4 L343 700.4" fill="none" stroke="#111" stroke-width="1.1" stroke-linecap="round" stroke-linejoin="round"/>
<line x1="500.37" x2="500.37" y1="678" y2="683.3" stroke="#222" stroke-width="1.3"/>
<path d="M488.51 687.44 L486.91 688.06 L485.85 689.91 L485.32 693 L485.32 694.85 L485.85 697.93 L486.91 699.78 L488.51 700.4 L489.58 700.4 L491.18 699.78 L492.24 697.93 L492.78 694.85 L492.78 693 L492.24 689.91 L491.18 688.06 L489.58 687.44 L488.51 687.44 M499.73 687.44 L498.13 688.06 L497.07 689.91 L496.54 693 L496.54 694.85 L497.07 697.93 L498.13 699.78 L499.73 700.4 L500.8 700.4 L502.4 699.78 L503.46 697.93 L504 694.85 L504 693 L503.46 689.91 L502.4 688.06 L500.8 687.44 L499.73 687.44 M515.22 687.44 L507.76 700.4 M507.76 687.44 L515.22 687.44 M507.76 700.4 L515.22 700.4" fill="none" stroke="#111" stroke-width="1.1" stroke-linecap="round" stroke-linejoin="round"/>
<path d="M485.26 706.39 L479.93 706.39 L479.4 711.95 L479.93 711.33 L481.53 710.71 L483.13 710.71 L484.73 711.33 L485.79 712.56 L486.32 714.41 L486.32 715.65 L485.79 717.5 L484.73 718.73 L483.13 719.35 L481.53 719.35 L479.93 718.73 L479.4 718.12 L478.86 716.88 M490.67 706.39 L490.67 719.35 M490.67 706.39 L494.94 719.35 M499.2 706.39 L494.94 719.35 M499.2 706.39 L499.2 719.35 M506.72 706.39 L502.45 719.35 M506.72 706.39 L510.98 719.35 M504.05 715.03 L509.38 715.03 M514.19 706.39 L514.19 719.35 M514.19 706.39 L518.99 706.39 L520.59 707.01 L521.12 707.63 L521.65 708.86 L521.65 710.1 L521.12 711.33 L520.59 711.95 L518.99 712.56 L514.19 712.56 M517.92 712.56 L521.65 719.35" fill="none" stroke="#111" stroke-width="1.1" stroke-linecap="round" stroke-linejoin="round"/>
<line x1="672.58" x2="672.58" y1="678" y2="683.3" stroke="#222" stroke-width="1.3"/>
<path d="M659.13 689.91 L660.2 689.29 L661.8 687.44 L661.8 700.4 M669.29 690.53 L669.29 689.91 L669.82 688.68 L670.35 688.06 L671.42 687.44 L673.55 687.44 L674.62 688.06 L675.15 688.68 L675.68 689.91 L675.68 691.14 L675.15 692.38 L674.08 694.23 L668.75 700.4 L676.21 700.4 M687.43 687.44 L679.97 700.4 M679.97 687.44 L687.43 687.44 M679.97 700.4 L687.43 700.4" fill="none" stroke="#111" stroke-width="1.1" stroke-linecap="round" stroke-linejoin="round"/>
<line x1="844.8" x2="844.8" y1="678" y2="683.3" stroke="#222" stroke-width="1.3"/>
<path d="M832.95 687.44 L831.35 688.06 L830.28 689.91 L829.75 693 L829.75 694.85 L830.28 697.93 L831.35 699.78 L832.95 700.4 L834.01 700.4 L835.61 699.78 L836.68 697.93 L837.21 694.85 L837.21 693 L836.68 689.91 L835.61 688.06 L834.01 687.44 L832.95 687.44 M844.17 687.44 L842.57 688.06 L841.5 689.91 L840.97 693 L840.97 694.85 L841.5 697.93 L842.57 699.78 L844.17 700.4 L845.23 700.4 L846.83 699.78 L847.9 697.93 L848.43 694.85 L848.43 693 L847.9 689.91 L846.83 688.06 L845.23 687.44 L844.17 687.44 M859.65 687.44 L852.19 700.4 M852.19 687.44 L859.65 687.44 M852.19 700.4 L859.65 700.4" fill="none" stroke="#111" stroke-width="1.1" stroke-linecap="round" stroke-linejoin="round"/>
<path d="M830.23 708.24 L829.69 707.01 L828.1 706.39 L827.03 706.39 L825.43 707.01 L824.37 708.86 L823.83 711.95 L823.83 715.03 L824.37 717.5 L825.43 718.73 L827.03 719.35 L827.56 719.35 L829.16 718.73 L830.23 717.5 L830.76 715.65 L830.76 715.03 L830.23 713.18 L829.16 711.95 L827.56 711.33 L827.03 711.33 L825.43 711.95 L824.37 713.18 L823.83 715.03 M835.11 706.39 L835.11 719.35 M835.11 706.39 L839.37 719.35 M843.64 706.39 L839.37 719.35 M843.64 706.39 L843.64 719.35 M851.15 706.39 L846.89 719.35 M851.15 706.39 L855.42 719.35 M848.49 715.03 L853.82 715.03 M858.63 706.39 L858.63 719.35 M858.63 706.39 L863.43 706.39 L865.02 707.01 L865.56 707.63 L866.09 708.86 L866.09 710.1 L865.56 711.33 L865.02 711.95 L863.43 712.56 L858.63 712.56 M862.36 712.56 L866.09 719.35" fill="none" stroke="#111" stroke-width="1.1" stroke-linecap="round" stroke-linejoin="round"/>
<path d="M173.19 61.11 L173.19 60.24 L173.96 58.5 L174.73 57.63 L176.28 56.76 L179.37 56.76 L180.92 57.63 L181.7 58.5 L182.47 60.24 L182.47 61.98 L181.7 63.73 L180.15 66.34 L172.41 75.05 L183.24 75.05 M193.51 56.76 L191.19 57.63 L189.64 60.24 L188.87 64.6 L188.87 67.21 L189.64 71.57 L191.19 74.18 L193.51 75.05 L195.06 75.05 L197.38 74.18 L198.92 71.57 L199.7 67.21 L199.7 64.6 L198.92 60.24 L197.38 57.63 L195.06 56.76 L193.51 56.76 M206.1 61.11 L206.1 60.24 L206.87 58.5 L207.65 57.63 L209.19 56.76 L212.29 56.76 L213.83 57.63 L214.61 58.5 L215.38 60.24 L215.38 61.98 L214.61 63.73 L213.06 66.34 L205.33 75.05 L216.15 75.05 M231.84 59.37 L231.06 57.63 L228.74 56.76 L227.2 56.76 L224.88 57.63 L223.33 60.24 L222.56 64.6 L222.56 68.95 L223.33 72.44 L224.88 74.18 L227.2 75.05 L227.97 75.05 L230.29 74.18 L231.84 72.44 L232.61 69.82 L232.61 68.95 L231.84 66.34 L230.29 64.6 L227.97 63.73 L227.2 63.73 L224.88 64.6 L223.33 66.34 L222.56 68.95 M242.88 56.76 L240.56 57.63 L239.01 60.24 L238.24 64.6 L238.24 67.21 L239.01 71.57 L240.56 74.18 L242.88 75.05 L244.43 75.05 L246.75 74.18 L248.29 71.57 L249.07 67.21 L249.07 64.6 L248.29 60.24 L246.75 57.63 L244.43 56.76 L242.88 56.76 M256.24 56.76 L264.75 56.76 L260.11 63.73 L262.43 63.73 L263.98 64.6 L264.75 65.47 L265.52 68.08 L265.52 69.82 L264.75 72.44 L263.2 74.18 L260.88 75.05 L258.56 75.05 L256.24 74.18 L255.47 73.31 L254.69 71.57 M275.79 56.76 L273.47 57.63 L271.92 60.24 L271.15 64.6 L271.15 67.21 L271.92 71.57 L273.47 74.18 L275.79 75.05 L277.34 75.05 L279.66 74.18 L281.2 71.57 L281.98 67.21 L281.98 64.6 L281.2 60.24 L279.66 57.63 L277.34 56.76 L275.79 56.76 M289.15 56.76 L297.66 56.76 L293.02 63.73 L295.34 63.73 L296.89 64.6 L297.66 65.47 L298.43 68.08 L298.43 69.82 L297.66 72.44 L296.11 74.18 L293.79 75.05 L291.47 75.05 L289.15 74.18 L288.38 73.31 L287.61 71.57 M306.38 60.24 L307.93 59.37 L310.25 56.76 L310.25 75.05 M324.39 56.76 L322.06 57.63 L321.29 59.37 L321.29 61.11 L322.06 62.86 L323.61 63.73 L326.71 64.6 L329.03 65.47 L330.57 67.21 L331.35 68.95 L331.35 71.57 L330.57 73.31 L329.8 74.18 L327.48 75.05 L324.39 75.05 L322.06 74.18 L321.29 73.31 L320.52 71.57 L320.52 68.95 L321.29 67.21 L322.84 65.47 L325.16 64.6 L328.25 63.73 L329.8 62.86 L330.57 61.11 L330.57 59.37 L329.8 57.63 L327.48 56.76 L324.39 56.76 M350.96 56.76 L350.96 75.05 M350.96 56.76 L361.79 75.05 M361.79 56.76 L361.79 75.05 M372.83 56.76 L366.64 75.05 M372.83 56.76 L379.02 75.05 M368.96 68.95 L376.7 68.95 M383.92 56.76 L383.92 75.05 M383.92 56.76 L390.11 75.05 M396.3 56.76 L390.11 75.05 M396.3 56.76 L396.3 75.05 M404.34 56.76 L412.85 56.76 L408.21 63.73 L410.53 63.73 L412.08 64.6 L412.85 65.47 L413.63 68.08 L413.63 69.82 L412.85 72.44 L411.31 74.18 L408.99 75.05 L406.67 75.05 L404.34 74.18 L403.57 73.31 L402.8 71.57 M420.05 56.76 L420.05 75.05 M430.88 56.76 L420.05 68.95 M423.92 64.6 L430.88 75.05 M437.4 56.76 L437.4 75.05 M437.4 56.76 L443.59 75.05 M449.78 56.76 L443.59 75.05 M449.78 56.76 L449.78 75.05 M470.17 56.76 L470.17 75.05 M470.17 56.76 L480.22 56.76 M470.17 65.47 L476.36 65.47 M488.1 62.86 L486.55 63.73 L485 65.47 L484.23 68.08 L484.23 69.82 L485 72.44 L486.55 74.18 L488.1 75.05 L490.42 75.05 L491.96 74.18 L493.51 72.44 L494.29 69.82 L494.29 68.08 L493.51 65.47 L491.96 63.73 L490.42 62.86 L488.1 62.86 M500.49 62.86 L500.49 75.05 M500.49 68.08 L501.26 65.47 L502.81 63.73 L504.36 62.86 L506.68 62.86 M510.54 68.08 L519.82 68.08 L519.82 66.34 L519.04 64.6 L518.27 63.73 L516.72 62.86 L514.4 62.86 L512.86 63.73 L511.31 65.47 L510.54 68.08 L510.54 69.82 L511.31 72.44 L512.86 74.18 L514.4 75.05 L516.72 75.05 L518.27 74.18 L519.82 72.44 M534.63 65.47 L533.08 63.73 L531.53 62.86 L529.21 62.86 L527.67 63.73 L526.12 65.47 L525.35 68.08 L525.35 69.82 L526.12 72.44 L527.67 74.18 L529.21 75.05 L531.53 75.05 L533.08 74.18 L534.63 72.44 M549.46 62.86 L549.46 75.05 M549.46 65.47 L547.92 63.73 L546.37 62.86 L544.05 62.86 L542.5 63.73 L540.95 65.47 L540.18 68.08 L540.18 69.82 L540.95 72.44 L542.5 74.18 L544.05 75.05 L546.37 75.05 L547.92 74.18 L549.46 72.44 M564.27 65.47 L563.5 63.73 L561.18 62.86 L558.86 62.86 L556.54 63.73 L555.76 65.47 L556.54 67.21 L558.09 68.08 L561.95 68.95 L563.5 69.82 L564.27 71.57 L564.27 72.44 L563.5 74.18 L561.18 75.05 L558.86 75.05 L556.54 74.18 L555.76 72.44 M571.18 56.76 L571.18 71.57 L571.95 74.18 L573.5 75.05 L575.04 75.05 M568.86 62.86 L574.27 62.86 M593.66 56.76 L593.66 75.05 M593.66 56.76 L600.62 56.76 L602.94 57.63 L603.72 58.5 L604.49 60.24 L604.49 61.98 L603.72 63.73 L602.94 64.6 L600.62 65.47 L593.66 65.47 M599.08 65.47 L604.49 75.05 M609.85 56.76 L610.62 57.63 L611.39 56.76 L610.62 55.89 L609.85 56.76 M610.62 62.86 L610.62 75.05 M625.96 65.47 L624.41 63.73 L622.86 62.86 L620.54 62.86 L619 63.73 L617.45 65.47 L616.68 68.08 L616.68 69.82 L617.45 72.44 L619 74.18 L620.54 75.05 L622.86 75.05 L624.41 74.18 L625.96 72.44 M632.29 56.76 L632.29 75.05 M632.29 66.34 L634.61 63.73 L636.15 62.86 L638.47 62.86 L640.02 63.73 L640.79 66.34 L640.79 75.05 M656.43 62.86 L656.43 75.05 M656.43 65.47 L654.88 63.73 L653.33 62.86 L651.01 62.86 L649.47 63.73 L647.92 65.47 L647.14 68.08 L647.14 69.82 L647.92 72.44 L649.47 74.18 L651.01 75.05 L653.33 75.05 L654.88 74.18 L656.43 72.44 M663.4 62.86 L663.4 75.05 M663.4 68.08 L664.18 65.47 L665.72 63.73 L667.27 62.86 L669.59 62.86 M682.76 56.76 L682.76 75.05 M682.76 65.47 L681.21 63.73 L679.66 62.86 L677.34 62.86 L675.79 63.73 L674.25 65.47 L673.47 68.08 L673.47 69.82 L674.25 72.44 L675.79 74.18 L677.34 75.05 L679.66 75.05 L681.21 74.18 L682.76 72.44 M697.57 65.47 L696.79 63.73 L694.47 62.86 L692.15 62.86 L689.83 63.73 L689.06 65.47 L689.83 67.21 L691.38 68.08 L695.25 68.95 L696.79 69.82 L697.57 71.57 L697.57 72.44 L696.79 74.18 L694.47 75.05 L692.15 75.05 L689.83 74.18 L689.06 72.44 M706.96 62.86 L705.42 63.73 L703.87 65.47 L703.1 68.08 L703.1 69.82 L703.87 72.44 L705.42 74.18 L706.96 75.05 L709.28 75.05 L710.83 74.18 L712.38 72.44 L713.15 69.82 L713.15 68.08 L712.38 65.47 L710.83 63.73 L709.28 62.86 L706.96 62.86 M719.5 62.86 L719.5 75.05 M719.5 66.34 L721.82 63.73 L723.37 62.86 L725.69 62.86 L727.24 63.73 L728.01 66.34 L728.01 75.05 M740.6 53.27 L735.18 81.15 M745.24 53.27 L739.83 81.15 M735.18 63.73 L746.01 63.73 M734.41 68.95 L745.24 68.95 M765.63 56.76 L765.63 75.05 M776.46 56.76 L765.63 68.95 M769.5 64.6 L776.46 75.05 M782.98 56.76 L782.98 75.05 M782.98 56.76 L789.17 75.05 M795.36 56.76 L789.17 75.05 M795.36 56.76 L795.36 75.05 M802.65 56.76 L802.65 75.05 M802.65 56.76 L809.61 56.76 L811.94 57.63 L812.71 58.5 L813.48 60.24 L813.48 61.98 L812.71 63.73 L811.94 64.6 L809.61 65.47 L802.65 65.47 M808.07 65.47 L813.48 75.05 M817.54 56.76 L823.73 65.47 L823.73 75.05 M829.91 56.76 L823.73 65.47" fill="none" stroke="#000" stroke-width="1.4" stroke-linecap="round" stroke-linejoin="round"/>
<path d="M361.15 741.39 L361.15 758.4 M361.15 741.39 L372.9 741.39 M361.15 749.49 L368.38 749.49 M381.92 747.06 L380.11 747.87 L378.31 749.49 L377.4 751.92 L377.4 753.54 L378.31 755.97 L380.11 757.59 L381.92 758.4 L384.64 758.4 L386.45 757.59 L388.25 755.97 L389.16 753.54 L389.16 751.92 L388.25 749.49 L386.45 747.87 L384.64 747.06 L381.92 747.06 M396.25 747.06 L396.25 758.4 M396.25 751.92 L397.16 749.49 L398.96 747.87 L400.77 747.06 L403.49 747.06 M407.84 751.92 L418.69 751.92 L418.69 750.3 L417.79 748.68 L416.89 747.87 L415.08 747.06 L412.36 747.06 L410.55 747.87 L408.75 749.49 L407.84 751.92 L407.84 753.54 L408.75 755.97 L410.55 757.59 L412.36 758.4 L415.08 758.4 L416.89 757.59 L418.69 755.97 M435.83 749.49 L434.02 747.87 L432.21 747.06 L429.5 747.06 L427.69 747.87 L425.88 749.49 L424.98 751.92 L424.98 753.54 L425.88 755.97 L427.69 757.59 L429.5 758.4 L432.21 758.4 L434.02 757.59 L435.83 755.97 M452.99 747.06 L452.99 758.4 M452.99 749.49 L451.18 747.87 L449.37 747.06 L446.66 747.06 L444.85 747.87 L443.04 749.49 L442.14 751.92 L442.14 753.54 L443.04 755.97 L444.85 757.59 L446.66 758.4 L449.37 758.4 L451.18 757.59 L452.99 755.97 M470.13 749.49 L469.22 747.87 L466.51 747.06 L463.8 747.06 L461.08 747.87 L460.18 749.49 L461.08 751.11 L462.89 751.92 L467.41 752.73 L469.22 753.54 L470.13 755.16 L470.13 755.97 L469.22 757.59 L466.51 758.4 L463.8 758.4 L461.08 757.59 L460.18 755.97 M478.05 741.39 L478.05 755.16 L478.96 757.59 L480.76 758.4 L482.57 758.4 M475.34 747.06 L481.67 747.06 M507.52 741.39 L507.52 758.4 M501.19 741.39 L513.85 741.39 M518.04 741.39 L518.94 742.2 L519.84 741.39 L518.94 740.58 L518.04 741.39 M518.94 747.06 L518.94 758.4 M527.08 747.06 L527.08 758.4 M527.08 750.3 L529.79 747.87 L531.6 747.06 L534.31 747.06 L536.12 747.87 L537.03 750.3 L537.03 758.4 M537.03 750.3 L539.74 747.87 L541.55 747.06 L544.26 747.06 L546.07 747.87 L546.98 750.3 L546.98 758.4 M554.45 751.92 L565.3 751.92 L565.3 750.3 L564.4 748.68 L563.49 747.87 L561.68 747.06 L558.97 747.06 L557.16 747.87 L555.35 749.49 L554.45 751.92 L554.45 753.54 L555.35 755.97 L557.16 757.59 L558.97 758.4 L561.68 758.4 L563.49 757.59 L565.3 755.97 M593.96 738.15 L592.15 739.77 L590.34 742.2 L588.53 745.44 L587.63 749.49 L587.63 752.73 L588.53 756.78 L590.34 760.02 L592.15 762.45 L593.96 764.07 M601.15 741.39 L601.15 753.54 L602.05 755.97 L603.86 757.59 L606.57 758.4 L608.38 758.4 L611.09 757.59 L612.9 755.97 L613.81 753.54 L613.81 741.39 M625.56 741.39 L625.56 758.4 M619.23 741.39 L631.89 741.39 M649.96 745.44 L649.05 743.82 L647.25 742.2 L645.44 741.39 L641.82 741.39 L640.01 742.2 L638.2 743.82 L637.3 745.44 L636.39 747.87 L636.39 751.92 L637.3 754.35 L638.2 755.97 L640.01 757.59 L641.82 758.4 L645.44 758.4 L647.25 757.59 L649.05 755.97 L649.96 754.35 M656.22 738.15 L658.03 739.77 L659.84 742.2 L661.64 745.44 L662.55 749.49 L662.55 752.73 L661.64 756.78 L659.84 760.02 L658.03 762.45 L656.22 764.07" fill="none" stroke="#000" stroke-width="2.3" stroke-linecap="round" stroke-linejoin="round"/>
<path d="M833.88 753.97 L832.78 752.91 L831.67 752.38 L830 752.38 L828.89 752.91 L827.78 753.97 L827.23 755.56 L827.23 756.62 L827.78 758.21 L828.89 759.27 L830 759.8 L831.67 759.8 L832.78 759.27 L833.88 758.21 M840.53 752.38 L839.42 752.91 L838.31 753.97 L837.75 755.56 L837.75 756.62 L838.31 758.21 L839.42 759.27 L840.53 759.8 L842.19 759.8 L843.3 759.27 L844.41 758.21 L844.97 756.62 L844.97 755.56 L844.41 753.97 L843.3 752.91 L842.19 752.38 L840.53 752.38 M851.62 752.38 L850.51 752.91 L849.4 753.97 L848.85 755.56 L848.85 756.62 L849.4 758.21 L850.51 759.27 L851.62 759.8 L853.29 759.8 L854.4 759.27 L855.51 758.21 L856.06 756.62 L856.06 755.56 L855.51 753.97 L854.4 752.91 L853.29 752.38 L851.62 752.38 M860.34 748.67 L860.34 759.8 M864.66 752.38 L866.88 759.8 M869.1 752.38 L866.88 759.8 M869.1 752.38 L871.32 759.8 M873.54 752.38 L871.32 759.8 M877.44 752.38 L883.54 759.8 M883.54 752.38 L877.44 759.8 M888.37 758.74 L887.82 759.27 L888.37 759.8 L888.93 759.27 L888.37 758.74 M899.88 753.97 L898.77 752.91 L897.66 752.38 L895.99 752.38 L894.88 752.91 L893.77 753.97 L893.22 755.56 L893.22 756.62 L893.77 758.21 L894.88 759.27 L895.99 759.8 L897.66 759.8 L898.77 759.27 L899.88 758.21 M906.52 752.38 L905.41 752.91 L904.3 753.97 L903.75 755.56 L903.75 756.62 L904.3 758.21 L905.41 759.27 L906.52 759.8 L908.18 759.8 L909.29 759.27 L910.4 758.21 L910.96 756.62 L910.96 755.56 L910.4 753.97 L909.29 752.91 L908.18 752.38 L906.52 752.38 M915.56 752.38 L915.56 759.8 M915.56 754.5 L917.22 752.91 L918.33 752.38 L920 752.38 L921.11 752.91 L921.66 754.5 L921.66 759.8 M921.66 754.5 L923.32 752.91 L924.43 752.38 L926.1 752.38 L927.21 752.91 L927.76 754.5 L927.76 759.8 M941.84 746.55 L931.85 763.51 M945.93 752.38 L945.93 759.8 M945.93 754.5 L947.59 752.91 L948.7 752.38 L950.36 752.38 L951.47 752.91 L952.03 754.5 L952.03 759.8 M952.03 754.5 L953.69 752.91 L954.8 752.38 L956.47 752.38 L957.58 752.91 L958.13 754.5 L958.13 759.8 M965.5 752.38 L964.39 752.91 L963.28 753.97 L962.73 755.56 L962.73 756.62 L963.28 758.21 L964.39 759.27 L965.5 759.8 L967.17 759.8 L968.28 759.27 L969.39 758.21 L969.94 756.62 L969.94 755.56 L969.39 753.97 L968.28 752.91 L967.17 752.38 L965.5 752.38 M980.48 748.67 L980.48 759.8 M980.48 753.97 L979.37 752.91 L978.26 752.38 L976.6 752.38 L975.49 752.91 L974.38 753.97 L973.83 755.56 L973.83 756.62 L974.38 758.21 L975.49 759.27 L976.6 759.8 L978.26 759.8 L979.37 759.27 L980.48 758.21 M984.91 755.56 L991.56 755.56 L991.56 754.5 L991.01 753.44 L990.46 752.91 L989.35 752.38 L987.68 752.38 L986.57 752.91 L985.46 753.97 L984.91 755.56 L984.91 756.62 L985.46 758.21 L986.57 759.27 L987.68 759.8 L989.35 759.8 L990.46 759.27 L991.56 758.21 M995.83 748.67 L995.83 759.8 M1001.11 748.67 L1001.11 757.68 L1001.67 759.27 L1002.78 759.8 L1003.89 759.8 M999.45 752.38 L1003.33 752.38 M1013.19 753.97 L1012.63 752.91 L1010.97 752.38 L1009.3 752.38 L1007.64 752.91 L1007.08 753.97 L1007.64 755.03 L1008.75 755.56 L1011.52 756.09 L1012.63 756.62 L1013.19 757.68 L1013.19 758.21 L1012.63 759.27 L1010.97 759.8 L1009.3 759.8 L1007.64 759.27 L1007.08 758.21" fill="none" stroke="#fa3c3c" stroke-width="1" stroke-linecap="round" stroke-linejoin="round"/>
<g stroke="#000" stroke-width="1.4" stroke-linejoin="miter">
<path d="M945 338.8 L954.2 292.8 L963.6 338.8 Z" fill="#fff"/>
<rect x="945" y="338.8" width="18.6" height="45" fill="#e6dc32"/>
<rect x="945" y="383.8" width="18.6" height="45.4" fill="#f08228"/>
<path d="M945 429.2 L954.1 474.9 L963.6 429.2 Z" fill="#fa3c3c"/>
</g>
<text x="969" y="345" font-family="Liberation Sans, sans-serif" font-size="17" letter-spacing="1.45" fill="#000">1</text>
<text x="969" y="390" font-family="Liberation Sans, sans-serif" font-size="17" letter-spacing="1.45" fill="#000">0.5</text>
<text x="969" y="434.8" font-family="Liberation Sans, sans-serif" font-size="17" letter-spacing="1.45" fill="#000">0.25</text>
</svg>
</body></html>
